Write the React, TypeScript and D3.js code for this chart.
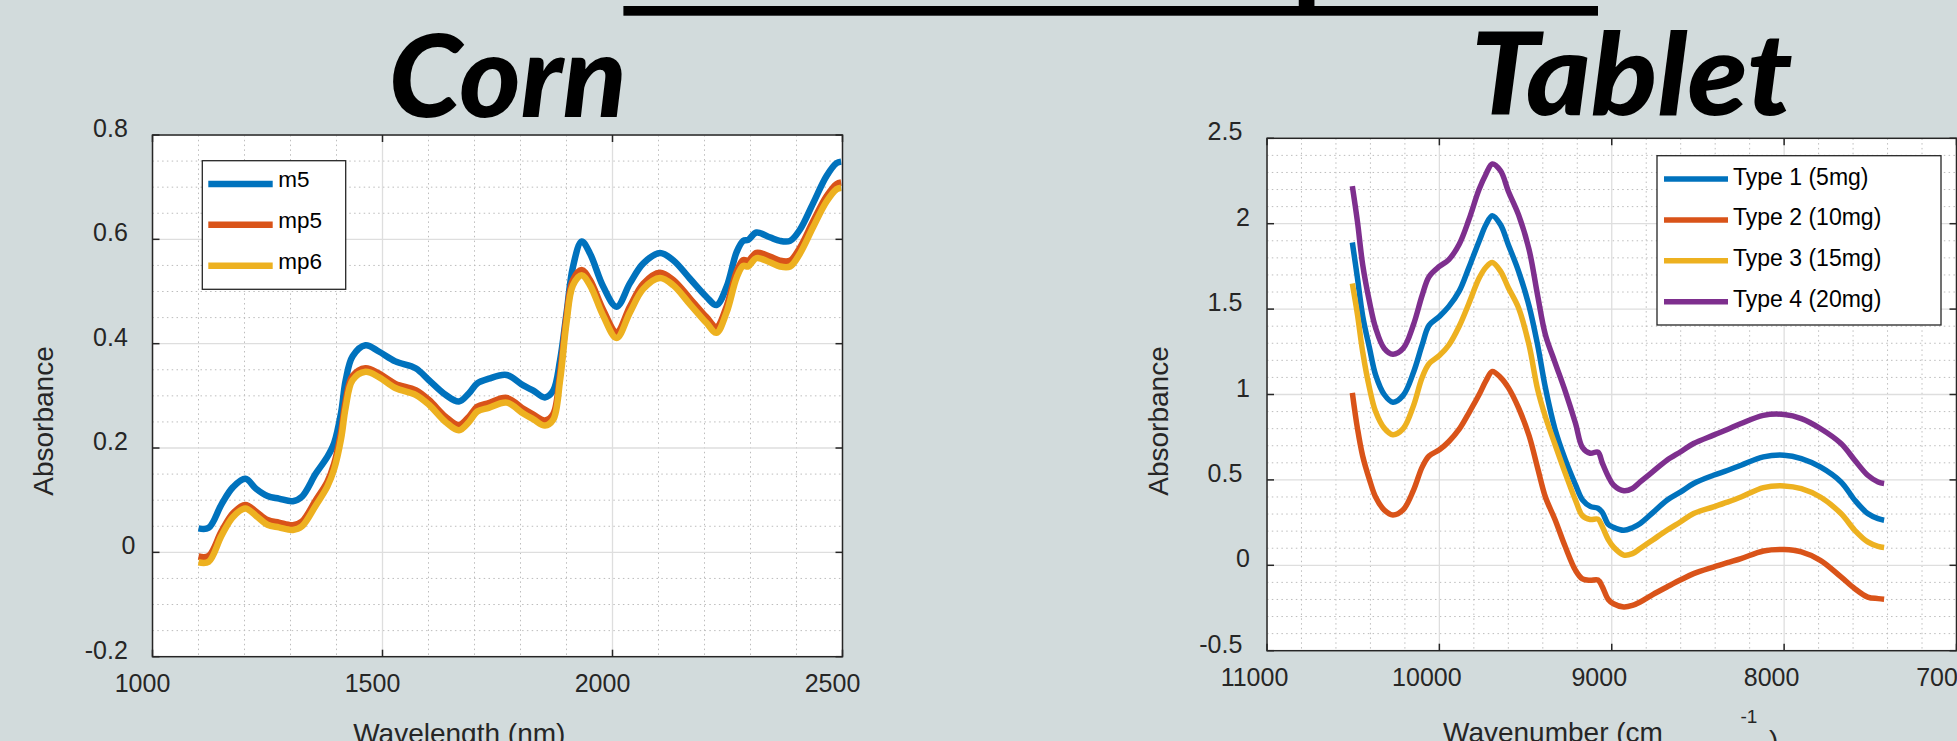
import React from "react";
import * as d3 from "d3";

// ---------------- DATA ----------------
const cornWavelength = [1100, 1122, 1150, 1175, 1202, 1225, 1250, 1275, 1305, 1325, 1355, 1380, 1395, 1410, 1420, 1435, 1463, 1492, 1528, 1572, 1601, 1637, 1666, 1688, 1706, 1731, 1770, 1806, 1828, 1853, 1871, 1886, 1900, 1914, 1933, 1951, 1980, 2009, 2038, 2067, 2103, 2132, 2168, 2204, 2226, 2248, 2270, 2284, 2295, 2313, 2342, 2364, 2386, 2407, 2436, 2465, 2487, 2497];
const cornM5 = [0.046, 0.047, 0.092, 0.125, 0.141, 0.122, 0.108, 0.103, 0.098, 0.107, 0.151, 0.183, 0.210, 0.268, 0.330, 0.376, 0.397, 0.385, 0.366, 0.353, 0.330, 0.302, 0.289, 0.305, 0.324, 0.333, 0.340, 0.320, 0.310, 0.297, 0.310, 0.368, 0.458, 0.547, 0.596, 0.573, 0.509, 0.471, 0.516, 0.554, 0.574, 0.560, 0.525, 0.490, 0.474, 0.509, 0.576, 0.597, 0.599, 0.613, 0.604, 0.597, 0.597, 0.618, 0.669, 0.721, 0.746, 0.749];
const cornMp5 = [-0.008, -0.007, 0.040, 0.075, 0.091, 0.078, 0.062, 0.057, 0.052, 0.059, 0.100, 0.135, 0.170, 0.230, 0.290, 0.338, 0.353, 0.343, 0.323, 0.311, 0.292, 0.260, 0.244, 0.260, 0.279, 0.286, 0.296, 0.275, 0.264, 0.253, 0.265, 0.342, 0.451, 0.522, 0.541, 0.522, 0.464, 0.422, 0.471, 0.515, 0.536, 0.522, 0.487, 0.451, 0.432, 0.471, 0.538, 0.560, 0.559, 0.574, 0.567, 0.559, 0.559, 0.583, 0.634, 0.682, 0.706, 0.709];
const cornMp6 = [-0.019, -0.018, 0.032, 0.068, 0.084, 0.070, 0.053, 0.048, 0.043, 0.050, 0.090, 0.126, 0.160, 0.218, 0.278, 0.330, 0.346, 0.336, 0.315, 0.302, 0.283, 0.250, 0.234, 0.250, 0.270, 0.277, 0.287, 0.266, 0.255, 0.243, 0.254, 0.330, 0.440, 0.512, 0.531, 0.512, 0.453, 0.411, 0.460, 0.505, 0.526, 0.512, 0.476, 0.440, 0.421, 0.460, 0.527, 0.549, 0.548, 0.564, 0.556, 0.548, 0.548, 0.572, 0.623, 0.672, 0.696, 0.699];
const cornNames = ["m5", "mp5", "mp6"];
const cornXTicks = [1000, 1500, 2000, 2500];
const cornXTickLabels = ["1000", "1500", "2000", "2500"];
const cornYTicks = [-0.2, 0, 0.2, 0.4, 0.6, 0.8];
const cornYTickLabels = ["-0.2", "0", "0.2", "0.4", "0.6", "0.8"];

const tabletWavenumber = [10505, 10475, 10445, 10405, 10370, 10320, 10270, 10210, 10150, 10100, 10060, 10000, 9945, 9885, 9830, 9770, 9730, 9693, 9645, 9600, 9540, 9480, 9430, 9385, 9330, 9270, 9210, 9170, 9125, 9080, 9055, 9020, 8990, 8930, 8880, 8835, 8760, 8680, 8600, 8525, 8410, 8330, 8250, 8120, 8000, 7900, 7790, 7670, 7590, 7515, 7455, 7420];
const tabletType1 = [1.89, 1.68, 1.46, 1.27, 1.115, 1.00, 0.955, 0.995, 1.13, 1.29, 1.405, 1.457, 1.516, 1.605, 1.74, 1.896, 1.994, 2.047, 1.994, 1.877, 1.72, 1.52, 1.29, 1.04, 0.80, 0.62, 0.471, 0.383, 0.345, 0.334, 0.310, 0.24, 0.222, 0.205, 0.22, 0.245, 0.31, 0.381, 0.43, 0.479, 0.527, 0.555, 0.586, 0.635, 0.645, 0.625, 0.576, 0.488, 0.381, 0.303, 0.273, 0.264];
const tabletType2 = [1.01, 0.80, 0.64, 0.50, 0.40, 0.324, 0.295, 0.325, 0.44, 0.575, 0.64, 0.676, 0.725, 0.797, 0.89, 0.998, 1.08, 1.135, 1.10, 1.04, 0.92, 0.76, 0.57, 0.40, 0.27, 0.11, -0.03, -0.08, -0.088, -0.086, -0.125, -0.20, -0.225, -0.244, -0.235, -0.215, -0.17, -0.127, -0.085, -0.049, -0.010, 0.015, 0.039, 0.084, 0.092, 0.078, 0.029, -0.068, -0.137, -0.186, -0.195, -0.199];
const tabletType3 = [1.65, 1.467, 1.25, 1.035, 0.90, 0.803, 0.765, 0.80, 0.935, 1.10, 1.18, 1.228, 1.29, 1.40, 1.53, 1.68, 1.745, 1.773, 1.721, 1.625, 1.505, 1.29, 1.03, 0.87, 0.71, 0.54, 0.38, 0.29, 0.268, 0.270, 0.227, 0.15, 0.107, 0.06, 0.068, 0.098, 0.15, 0.205, 0.255, 0.303, 0.342, 0.37, 0.40, 0.455, 0.465, 0.449, 0.400, 0.303, 0.205, 0.137, 0.111, 0.104];
const tabletType4 = [2.22, 2.01, 1.76, 1.54, 1.39, 1.27, 1.236, 1.27, 1.41, 1.58, 1.69, 1.75, 1.79, 1.88, 2.02, 2.20, 2.29, 2.35, 2.31, 2.19, 2.05, 1.85, 1.58, 1.35, 1.19, 1.02, 0.83, 0.69, 0.656, 0.663, 0.60, 0.52, 0.47, 0.437, 0.45, 0.488, 0.55, 0.615, 0.665, 0.713, 0.762, 0.795, 0.830, 0.878, 0.883, 0.859, 0.801, 0.713, 0.615, 0.527, 0.488, 0.479];
const tabletNames = ["Type 1 (5mg)", "Type 2 (10mg)", "Type 3 (15mg)", "Type 4 (20mg)"];
const tabletXTicks = [11000, 10000, 9000, 8000, 7000];
const tabletXTickLabels = ["11000", "10000", "9000", "8000", "7000"];
const tabletYTicks = [-0.5, 0, 0.5, 1, 1.5, 2, 2.5];
const tabletYTickLabels = ["-0.5", "0", "0.5", "1", "1.5", "2", "2.5"];

// ---------------- STYLE ----------------
const W = 1957;
const H = 741;
const BG = "#D2DBDC";
const TXT = "#262626";
const FONT = "'Liberation Sans', Arial, Helvetica, sans-serif";
const COLORS = ["#0072BD", "#D95319", "#EDB120", "#7E2F8E"];
const MAJOR_GRID = "#DEDEDE";
const MINOR_GRID = "#BDBDBD";

type PanelCfg = {
  left: number; right: number; top: number; bottom: number;
  xDomain: [number, number]; yDomain: [number, number];
  xs: number[]; series: number[][]; names: string[];
  xTicks: number[]; xTickLabels: string[]; xMinor: number[];
  yTicks: number[]; yTickLabels: string[]; yMinor: number[];
  lineW: number; xLabelShift: number;
  legend: { x: number; y: number; w: number; h: number; lx1: number; lx2: number; tx: number; firstY: number; step: number; fs: number; baseOff: number };
};

function Panel({ c }: { c: PanelCfg }) {
  const x = d3.scaleLinear().domain(c.xDomain).range([c.left, c.right]);
  const y = d3.scaleLinear().domain(c.yDomain).range([c.bottom, c.top]);
  const line = d3
    .line<number>()
    .x((_, i) => x(c.xs[i]))
    .y((d) => y(d))
    .curve(d3.curveCatmullRom.alpha(0.5));
  const tick = 7;
  return (
    <g>
      <rect x={c.left} y={c.top} width={c.right - c.left} height={c.bottom - c.top} fill="#ffffff" />
      {c.xMinor.map((v) => (
        <line key={"xm" + v} x1={x(v)} x2={x(v)} y1={c.top} y2={c.bottom} stroke={MINOR_GRID} strokeWidth={1} strokeDasharray="1.5,3.3" />
      ))}
      {c.yMinor.map((v) => (
        <line key={"ym" + v} x1={c.left} x2={c.right} y1={y(v)} y2={y(v)} stroke={MINOR_GRID} strokeWidth={1} strokeDasharray="1.5,3.3" />
      ))}
      {c.xTicks.map((v) => (
        <line key={"xg" + v} x1={x(v)} x2={x(v)} y1={c.top} y2={c.bottom} stroke={MAJOR_GRID} strokeWidth={1.3} />
      ))}
      {c.yTicks.map((v) => (
        <line key={"yg" + v} x1={c.left} x2={c.right} y1={y(v)} y2={y(v)} stroke={MAJOR_GRID} strokeWidth={1.3} />
      ))}
      {c.series.map((s, i) => (
        <path key={"s" + i} d={line(s) || ""} fill="none" stroke={COLORS[i]} strokeWidth={c.lineW} strokeLinejoin="round" strokeLinecap="butt" />
      ))}
      <rect x={c.left} y={c.top} width={c.right - c.left} height={c.bottom - c.top} fill="none" stroke={TXT} strokeWidth={1.5} />
      {c.xTicks.map((v) => (
        <g key={"xt" + v}>
          <line x1={x(v)} x2={x(v)} y1={c.bottom} y2={c.bottom - tick} stroke={TXT} strokeWidth={1.5} />
          <line x1={x(v)} x2={x(v)} y1={c.top} y2={c.top + tick} stroke={TXT} strokeWidth={1.5} />
        </g>
      ))}
      {c.yTicks.map((v) => (
        <g key={"yt" + v}>
          <line x1={c.left} x2={c.left + tick} y1={y(v)} y2={y(v)} stroke={TXT} strokeWidth={1.5} />
          <line x1={c.right} x2={c.right - tick} y1={y(v)} y2={y(v)} stroke={TXT} strokeWidth={1.5} />
        </g>
      ))}
      {c.xTicks.map((v, i) => (
        <text key={"xl" + v} x={x(v) + c.xLabelShift} y={c.bottom + 35} textAnchor="middle" fontSize={25} fontFamily={FONT} fill={TXT}>
          {c.xTickLabels[i]}
        </text>
      ))}
      {c.yTicks.map((v, i) => {
        const lab = c.yTickLabels[i];
        const off = lab.includes(".") ? 24.7 : 17;
        return (
          <text key={"yl" + v} x={c.left - off} y={y(v) + 2} textAnchor="end" fontSize={25} fontFamily={FONT} fill={TXT}>
            {lab}
          </text>
        );
      })}
      <rect x={c.legend.x} y={c.legend.y} width={c.legend.w} height={c.legend.h} fill="#ffffff" stroke={TXT} strokeWidth={1.3} />
      {c.names.map((n, i) => {
        const ly = c.legend.firstY + i * c.legend.step;
        return (
          <g key={"lg" + i}>
            <line x1={c.legend.lx1} x2={c.legend.lx2} y1={ly} y2={ly} stroke={COLORS[i]} strokeWidth={c.lineW} />
            <text x={c.legend.tx} y={ly + c.legend.baseOff} fontSize={c.legend.fs} fontFamily={FONT} fill="#000">
              {n}
            </text>
          </g>
        );
      })}
    </g>
  );
}

const cornCfg: PanelCfg = {
  left: 152.5, right: 842.5, top: 135, bottom: 656.7,
  xDomain: [1000, 2500], yDomain: [-0.2, 0.8],
  xs: cornWavelength, series: [cornM5, cornMp5, cornMp6], names: cornNames,
  xTicks: cornXTicks, xTickLabels: cornXTickLabels,
  xMinor: d3.range(1000, 2501, 100).filter((v) => v % 500 !== 0),
  yTicks: cornYTicks, yTickLabels: cornYTickLabels,
  yMinor: d3.range(-4, 17).filter((i) => i % 4 !== 0).map((i) => i * 0.05),
  lineW: 6.5, xLabelShift: -10,
  legend: { x: 202.3, y: 160.7, w: 143.4, h: 128.6, lx1: 208.3, lx2: 272.7, tx: 278.3, firstY: 184, step: 40.85, fs: 22.5, baseOff: 3 },
};

const tabletCfg: PanelCfg = {
  left: 1267, right: 1956.5, top: 138.3, bottom: 650.7,
  xDomain: [11000, 7000], yDomain: [-0.5, 2.5],
  xs: tabletWavenumber, series: [tabletType1, tabletType2, tabletType3, tabletType4], names: tabletNames,
  xTicks: tabletXTicks, xTickLabels: tabletXTickLabels,
  xMinor: d3.range(11000, 6999, -200).filter((v) => v % 1000 !== 0),
  yTicks: tabletYTicks, yTickLabels: tabletYTickLabels,
  yMinor: d3.range(-5, 26).filter((i) => i % 5 !== 0).map((i) => i * 0.1),
  lineW: 5.5, xLabelShift: -12.5,
  legend: { x: 1657, y: 155.7, w: 284, h: 169.3, lx1: 1664, lx2: 1728, tx: 1733, firstY: 179, step: 40.9, fs: 23, baseOff: 5.5 },
};

export default function App() {
  return (
    <svg width={W} height={H} viewBox={`0 0 ${W} ${H}`} style={{ position: "absolute", left: 0, top: 0, display: "block" }}>
      <rect x={0} y={0} width={W} height={H} fill={BG} />
      <rect x={623.4} y={6} width={974.6} height={9.7} fill="#000" />
      <rect x={1298.75} y={0} width={15.7} height={8} fill="#000" />
      <text x={388.75} y={117} fontSize={114} fontFamily="Lato, 'Open Sans', sans-serif" fontWeight={900} fontStyle="italic" fill="#000" textLength={238} lengthAdjust="spacingAndGlyphs">
        Corn
      </text>
      <text x={1470.6} y={115} fontSize={114} fontFamily="Lato, 'Open Sans', sans-serif" fontWeight={900} fontStyle="italic" fill="#000" textLength={322} lengthAdjust="spacingAndGlyphs">
        Tablet
      </text>
      <Panel c={cornCfg} />
      <Panel c={tabletCfg} />
      <text transform="translate(53,421) rotate(-90)" textAnchor="middle" fontSize={28} fontFamily={FONT} fill={TXT}>
        Absorbance
      </text>
      <text transform="translate(1167.5,421) rotate(-90)" textAnchor="middle" fontSize={28} fontFamily={FONT} fill={TXT}>
        Absorbance
      </text>
      <text x={459.3} y={743} textAnchor="middle" fontSize={28} fontFamily={FONT} fill={TXT}>
        Wavelength (nm)
      </text>
      <text x={1443} y={742} fontSize={28} fontFamily={FONT} fill={TXT}>
        Wavenumber (cm
      </text>
      <text x={1740.5} y={723.3} fontSize={19} fontFamily={FONT} fill={TXT}>
        -1
      </text>
      <text x={1769} y={750} fontSize={28} fontFamily={FONT} fill={TXT}>
        )
      </text>
    </svg>
  );
}
